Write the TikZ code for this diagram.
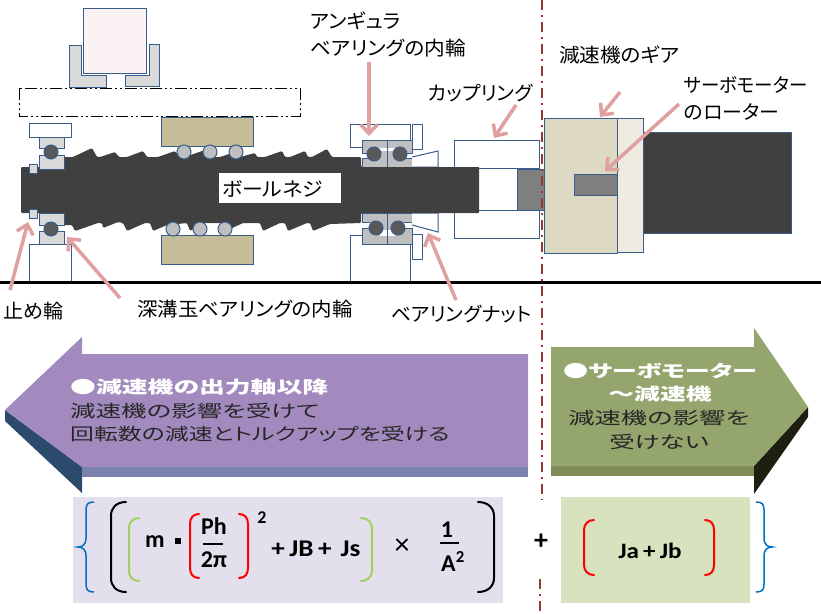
\documentclass[tikz,border=0pt]{standalone}
\usepackage{fontspec}
\usepackage{graphicx}
\usetikzlibrary{arrows.meta}
\setmainfont{Noto Sans CJK JP}[RawFeature=+palt]
\newfontfamily\mathfnt{Carlito}
\definecolor{edgeb}{HTML}{385D8A}
\definecolor{pinka}{HTML}{E0A0A0}
\definecolor{darkg}{HTML}{404040}
\definecolor{ballg}{HTML}{595959}
\definecolor{lgray}{HTML}{BFBFBF}
\definecolor{mgray}{HTML}{D9D9D9}
\definecolor{midg}{HTML}{7F7F7F}
\definecolor{tan}{HTML}{C4BD97}
\definecolor{gearc}{HTML}{DDD9C3}
\definecolor{gearl}{HTML}{EEECE1}
\definecolor{cutl}{HTML}{953735}
\definecolor{purf}{HTML}{A28ABF}
\definecolor{purs}{HTML}{7B82AE}
\definecolor{purd}{HTML}{2C4A6B}
\definecolor{grnf}{HTML}{95A56E}
\definecolor{grns}{HTML}{7F8C58}
\definecolor{grnd}{HTML}{1D2010}
\definecolor{boxp}{HTML}{E3DFEC}
\definecolor{boxg}{HTML}{D8E2BF}
\definecolor{bracb}{HTML}{0070C0}
\definecolor{bracg}{HTML}{A0D060}
\definecolor{pinkbox}{HTML}{FBF3F3}
\tikzset{
  part/.style={draw=edgeb,line width=1pt},
  lab/.style={anchor=west,inner sep=0pt,font=\fontsize{19.5}{20}\selectfont,text=black},
  callout/.style={draw=pinka,line width=3.5pt,-{Straight Barb[length=9pt,width=17pt,line width=3.5pt]}},
  fml/.style={inner sep=0pt,font=\fontsize{24}{24}\mathfnt\bfseries},
  sbr/.style={line width=2pt,line cap=round},
  cut/.style={draw=cutl,line width=2pt,dash pattern=on 10pt off 5pt on 2pt off 5pt},
  bwh/.style={inner sep=0pt,anchor=west,text=white,font=\fontsize{17}{17}\bfseries\selectfont},
  bbk/.style={inner sep=0pt,anchor=west,text=black!85,font=\fontsize{17}{17}\selectfont},
}
\begin{document}
\begin{tikzpicture}[x=1pt,y=-1pt]
\path[use as bounding box,fill=white] (0,0) rectangle (821,613);
% carriage
\draw[part,fill=mgray] (69,45)--(81,45)--(81,75)--(106,75)--(106,87)--(69,87)--cycle;
\draw[part,fill=mgray] (149,44)--(159,44)--(159,86)--(125,86)--(125,75)--(149,75)--cycle;
\draw[part,fill=pinkbox] (83,8) rectangle (146,73);
\draw[black,line width=1pt,dash pattern=on 12pt off 3pt on 2pt off 3pt on 2pt off 3pt] (19,88) rectangle (300,116);
% screw shaft
\fill[darkg,rounded corners=1.2pt] (21,167)--(64,167)--(64,157)--(73,157)--(92,148)--(97,157)--(100,157)--(115,152)--(119,157)--(127,157)--(143,151)--(147,157)--(158,157)--(175,151)--(179,157)--(185,157)--(205,150)--(209,157)--(220,157)--(238,151)--(242,157)--(240,157)--(255,153)--(257,157)--(265,157)--(282,151)--(285,157)--(290,157)--(305,151)--(308,157)--(312,157)--(327,149)--(332,157)--(361,157)--(361,167)--(479,167)--(479,213)--(361,213)--(361,223)--(330,224)--(313,231)--(310,223)--(307,223)--(288,231)--(285,223)--(280,223)--(263,231)--(260,223)--(243,223)--(228,230)--(225,223)--(205,223)--(190,231)--(187,223)--(167,225)--(153,231)--(150,223)--(145,223)--(127,231)--(123,223)--(118,222)--(103,228)--(102,223)--(98,223)--(75,231)--(72,225)--(64,225)--(64,213)--(21,213)--cycle;
\node[fill=white,minimum width=122pt,minimum height=30pt,inner sep=0pt,anchor=north west] (bnbox) at (219,173) {};
\node[lab] (ballscrew) at (222,189) {\scalebox{1.07}[1]{ボールネジ}};
% nut blocks and balls
\draw[part,fill=tan] (161,117) rectangle (253,146);
\draw[part,fill=tan] (161,235) rectangle (253,264);
\foreach \x in {184,210,236} \draw[part,fill=lgray] (\x,152) circle (7);
\foreach \x in {173,200,225} \draw[part,fill=lgray] (\x,229) circle (7);
% left bearing
\draw[part,fill=white] (29,123) rectangle (71,137);
\draw[part,fill=mgray] (39,137) rectangle (64,148);
\draw[part,fill=mgray] (39,155) rectangle (64,169);
\draw[part,fill=ballg] (51,152) circle (7);
\draw[part,fill=mgray] (29,164) rectangle (37,173);
\draw[part,fill=mgray] (29,209) rectangle (37,218);
\draw[part,fill=mgray] (39,213) rectangle (64,225);
\draw[part,fill=mgray] (39,231) rectangle (64,244);
\draw[part,fill=ballg] (51,229) circle (7);
\draw[part] (29,282)--(29,244)--(71,244)--(71,282);
% angular bearing top
\draw[part,fill=white] (350,124) rectangle (410,147);
\draw[part,fill=white] (412,124) rectangle (422,149);
\fill[white] (362,150) rectangle (412,160);
\fill[lgray] (369,150) rectangle (405,160);
\draw[part,fill=lgray] (362,140) rectangle (387,153) (387,140) rectangle (412,153);
\draw[part,fill=lgray] (362,158) rectangle (387,167) (387,158) rectangle (412,167);
\fill[lgray] (369,152) rectangle (405,159);
\fill[white] (378,148) rectangle (395,151);
\draw[edgeb,line width=1pt] (387,140)--(387,167);
\draw[part,fill=ballg] (374,154) circle (7);
\draw[part,fill=ballg] (400,154) circle (7);
\draw[part,fill=white] (412,157)--(438,151)--(438,167)--(412,167);
% angular bearing bottom
\draw[part,fill=white] (350,282)--(350,235)--(410,235)--(410,282);
\draw[part,fill=white] (412,234) rectangle (422,259);
\fill[white] (362,220) rectangle (412,230);
\draw[part,fill=lgray] (362,213) rectangle (387,222) (387,213) rectangle (412,222);
\draw[part,fill=lgray] (362,228) rectangle (387,244) (387,228) rectangle (412,244);
\fill[lgray] (370,221) rectangle (404,229);
\fill[white] (380,230) rectangle (395,236);
\draw[edgeb,line width=1pt] (387,213)--(387,244);
\draw[part,fill=ballg] (376,228) circle (7);
\draw[part,fill=ballg] (398,228) circle (7);
\draw[part,fill=white] (412,225)--(438,232)--(438,213)--(412,213);
% re-draw shaft over nut bases
\fill[darkg] (361,167) rectangle (479,213);
% coupling
\draw[part] (454,140) rectangle (539,168);
\draw[part] (454,210) rectangle (539,238);
\draw[part,fill=midg] (517,169) rectangle (544,210);
\fill[darkg] (454,167.5) rectangle (479,213);
% gear and motor
\draw[part,fill=gearl] (617,118) rectangle (643,252);
\draw[part,fill=gearc] (544,118) rectangle (617,253);
\draw[part,fill=midg] (574,174) rectangle (617,195);
\draw[part,fill=darkg] (643,132) rectangle (791,233);
% ground
\draw[black,line width=3pt] (0,282)--(821,282);
% centre line
\draw[cut] (542,0)--(542,500);
\draw[cut] (540,579)--(540,613);
% big arrows
\fill[purd] (5,410)--(5,421)--(82,493)--(82,467)--cycle;
\fill[purs] (82,467) rectangle (528,477);
\fill[purf] (5,410)--(82,337)--(82,354)--(528,354)--(528,467)--(82,467)--cycle;
\fill[grnd] (808,407)--(808,417)--(754,494)--(754,466)--cycle;
\fill[grns] (551,466) rectangle (754,476);
\fill[grnf] (551,347)--(754,347)--(754,328)--(808,407)--(754,466)--(551,466)--cycle;
\node[bwh] (ltitle) at (70,387) {\scalebox{1.52}[1]{●減速機の出力軸以降}};
\node[bbk] (lline1) at (70,411) {\scalebox{1.5}[1]{減速機の影響を受けて}};
\node[bbk] (lline2) at (70,434) {\scalebox{1.405}[1]{回転数の減速とトルクアップを受ける}};
\node[bwh,anchor=center] (rtitle1) at (660,371) {\scalebox{1.48}[1]{●サーボモーター}};
\node[bwh,anchor=center] (rtitle2) at (660,394) {\scalebox{1.52}[1]{～減速機}};
\node[bbk,anchor=center] (rline1) at (659,418) {\scalebox{1.55}[1]{減速機の影響を}};
\node[bbk,anchor=center] (rline2) at (659,442) {\scalebox{1.5}[1]{受けない}};
% formula boxes
\fill[boxp] (73,497) rectangle (503,603);
\fill[boxg] (561,497) rectangle (750,603);
\draw[bracb,line width=1.5pt] (94,502) .. controls (88,502) and (86,504) .. (86,510) -- (86,538) .. controls (86,545) and (82,547) .. (78,547) .. controls (82,547) and (86,549) .. (86,556) -- (86,584) .. controls (86,590) and (88,592) .. (94,592);
\draw[bracb,line width=1.5pt] (756,502) .. controls (762,502) and (764,504) .. (764,510) -- (764,538) .. controls (764,545) and (768,547) .. (772,547) .. controls (768,547) and (764,549) .. (764,556) -- (764,584) .. controls (764,590) and (762,592) .. (756,592);
\draw[sbr,black] (126,502) .. controls (116,502) and (111,508) .. (111,516) -- (111,578) .. controls (111,586) and (116,592) .. (126,592);
\draw[sbr,black] (478,502) .. controls (488,502) and (494,508) .. (494,516) -- (494,578) .. controls (494,586) and (488,592) .. (478,592);
\draw[sbr,bracg] (139,518) .. controls (133,518) and (129,522) .. (129,528) -- (129,571) .. controls (129,577) and (133,581) .. (139,581);
\draw[sbr,bracg] (361,518) .. controls (367,518) and (372,522) .. (372,528) -- (372,571) .. controls (372,577) and (367,581) .. (361,581);
\draw[sbr,red] (199,514) .. controls (193,514) and (190,518) .. (190,524) -- (190,568) .. controls (190,574) and (193,578) .. (199,578);
\draw[sbr,red] (239,514) .. controls (245,514) and (248,518) .. (248,524) -- (248,568) .. controls (248,574) and (245,578) .. (239,578);
\draw[sbr,red] (594,520) .. controls (588,520) and (584,524) .. (584,530) -- (584,565) .. controls (584,571) and (588,575) .. (594,575);
\draw[sbr,red] (705,520) .. controls (711,520) and (714,524) .. (714,530) -- (714,565) .. controls (714,571) and (711,575) .. (705,575);
\node[fml] (fm) at (155,542) {m};
\fill[black] (175,538) rectangle (181,544);
\node[fml] (fph) at (214,526) {Ph};
\draw[black,line width=1.2pt] (203,544)--(223,544);
\node[fml] (f2pi) at (214,560) {2π};
\node[fml,font=\fontsize{18}{18}\mathfnt\bfseries] (fsq) at (262,518) {2};
\node[fml] (fjb) at (316,549) {\scalebox{1.13}[1]{+\,JB\,+\,\,Js}};
\node[inner sep=0pt,font=\fontsize{30}{30}\mathfnt] (ftimes) at (402,547) {×};
\node[fml] (fone) at (447,530) {1};
\draw[black,line width=1.2pt] (440,543)--(459,543);
\node[fml] (fa) at (453,561) {A\textsuperscript{2}};
\node[fml,font=\fontsize{28}{28}\mathfnt\bfseries] (fplus) at (541,542) {+};
\node[fml,font=\fontsize{22}{22}\mathfnt\bfseries] (fjab) at (650,551) {\scalebox{1.14}[1]{Ja\,+\,Jb}};
% labels
\node[lab] (angular1) at (310,21) {\scalebox{1.05}[1]{アンギュラ}};
\node[lab] (angular2) at (310,48) {\scalebox{1.06}[1]{ベアリングの内輪}};
\node[lab] (coupling) at (428,93) {\scalebox{1.02}[1]{カップリング}};
\node[lab] (gearlab) at (559,55) {\scalebox{1.06}[1]{減速機のギア}};
\node[lab] (servo1) at (684,85) {\scalebox{.945}[1]{サーボモーター}};
\node[lab] (servo2) at (684,112) {\scalebox{1.02}[1]{のローター}};
\node[lab] (snap) at (3,311) {\scalebox{1.03}[1]{止め輪}};
\node[lab] (deep) at (137,309) {\scalebox{1.05}[1]{深溝玉ベアリングの内輪}};
\node[lab] (bnut) at (391,314) {\scalebox{1.015}[1]{ベアリングナット}};
% callouts
\coordinate (t1) at (28,222);
\coordinate (t2) at (67,237);
\coordinate (t3) at (369,136);
\coordinate (t4) at (494,138);
\coordinate (t5) at (428,233);
\coordinate (t6) at (600,117);
\coordinate (t7) at (605,171);
\coordinate (s1) at (10,290);
\coordinate (s2) at (120,298);
\coordinate (s3) at (369,62);
\coordinate (s4) at (516,105);
\coordinate (s5) at (456,300);
\coordinate (s6) at (620,92);
\coordinate (s7) at (679,104);
\draw[callout] (s1)--(t1);
\draw[callout] (s2)--(t2);
\draw[callout] (s3)--(t3);
\draw[callout] (s4)--(t4);
\draw[callout] (s5)--(t5);
\draw[callout] (s6)--(t6);
\draw[callout] (s7)--(t7);
\end{tikzpicture}
\end{document}
